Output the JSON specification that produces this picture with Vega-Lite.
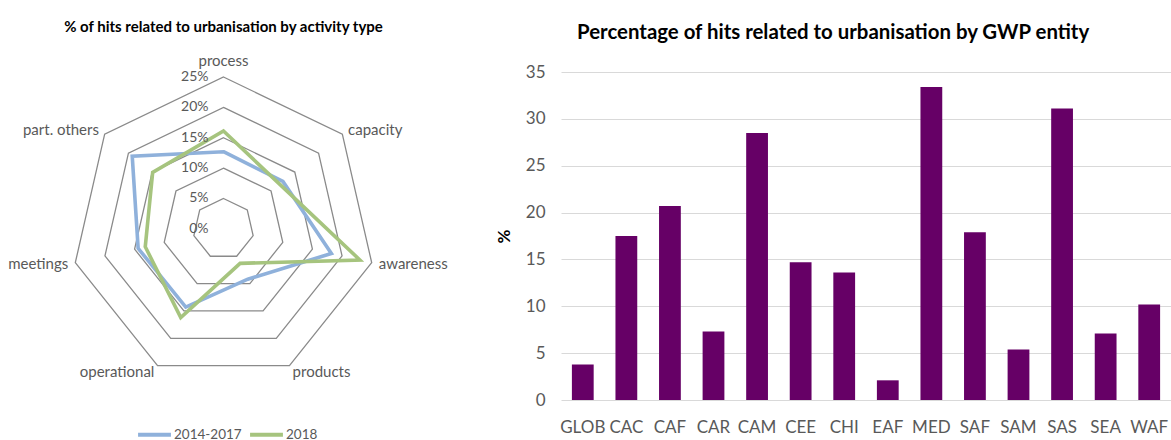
{
  "$schema": "https://vega.github.io/schema/vega-lite/v6.json",
  "background": "white",
  "padding": {"left": 0, "top": 19, "right": 0, "bottom": 0},
  "config": {"view": {"stroke": null}, "font": "Lato"},
  "spacing": 114,
  "bounds": "flush",
  "resolve": {"scale": {"x": "independent", "y": "independent", "color": "independent"}},
  "datasets": {
    "rings": [
      {"level": 5, "k": 0}, {"level": 5, "k": 1}, {"level": 5, "k": 2}, {"level": 5, "k": 3}, {"level": 5, "k": 4}, {"level": 5, "k": 5}, {"level": 5, "k": 6},
      {"level": 10, "k": 0}, {"level": 10, "k": 1}, {"level": 10, "k": 2}, {"level": 10, "k": 3}, {"level": 10, "k": 4}, {"level": 10, "k": 5}, {"level": 10, "k": 6},
      {"level": 15, "k": 0}, {"level": 15, "k": 1}, {"level": 15, "k": 2}, {"level": 15, "k": 3}, {"level": 15, "k": 4}, {"level": 15, "k": 5}, {"level": 15, "k": 6},
      {"level": 20, "k": 0}, {"level": 20, "k": 1}, {"level": 20, "k": 2}, {"level": 20, "k": 3}, {"level": 20, "k": 4}, {"level": 20, "k": 5}, {"level": 20, "k": 6},
      {"level": 25, "k": 0}, {"level": 25, "k": 1}, {"level": 25, "k": 2}, {"level": 25, "k": 3}, {"level": 25, "k": 4}, {"level": 25, "k": 5}, {"level": 25, "k": 6}
    ],
    "radar": [
      {"activity": "process", "k": 0, "series": "2014-2017", "value": 12.7},
      {"activity": "capacity", "k": 1, "series": "2014-2017", "value": 12.5},
      {"activity": "awareness", "k": 2, "series": "2014-2017", "value": 18.2},
      {"activity": "products", "k": 3, "series": "2014-2017", "value": 9.2},
      {"activity": "operational", "k": 4, "series": "2014-2017", "value": 14.3},
      {"activity": "meetings", "k": 5, "series": "2014-2017", "value": 14.4},
      {"activity": "part. others", "k": 6, "series": "2014-2017", "value": 19.2},
      {"activity": "process", "k": 0, "series": "2018", "value": 16.1},
      {"activity": "capacity", "k": 1, "series": "2018", "value": 11.8},
      {"activity": "awareness", "k": 2, "series": "2018", "value": 23.0},
      {"activity": "products", "k": 3, "series": "2018", "value": 6.3},
      {"activity": "operational", "k": 4, "series": "2018", "value": 16.2},
      {"activity": "meetings", "k": 5, "series": "2018", "value": 13.2},
      {"activity": "part. others", "k": 6, "series": "2018", "value": 14.9}
    ],
    "axes": [
      {"activity": "process", "k": 0},
      {"activity": "capacity", "k": 1},
      {"activity": "awareness", "k": 2},
      {"activity": "products", "k": 3},
      {"activity": "operational", "k": 4},
      {"activity": "meetings", "k": 5},
      {"activity": "part. others", "k": 6}
    ],
    "levels": [
      {"level": 0, "label": "0%"},
      {"level": 5, "label": "5%"},
      {"level": 10, "label": "10%"},
      {"level": 15, "label": "15%"},
      {"level": 20, "label": "20%"},
      {"level": 25, "label": "25%"}
    ],
    "bars": [
      {"entity": "GLOB", "pct": 3.8},
      {"entity": "CAC", "pct": 17.5},
      {"entity": "CAF", "pct": 20.7},
      {"entity": "CAR", "pct": 7.3},
      {"entity": "CAM", "pct": 28.5},
      {"entity": "CEE", "pct": 14.7},
      {"entity": "CHI", "pct": 13.6},
      {"entity": "EAF", "pct": 2.1},
      {"entity": "MED", "pct": 33.4},
      {"entity": "SAF", "pct": 17.9},
      {"entity": "SAM", "pct": 5.4},
      {"entity": "SAS", "pct": 31.1},
      {"entity": "SEA", "pct": 7.1},
      {"entity": "WAF", "pct": 10.2}
    ]
  },
  "hconcat": [
    {
      "width": 447,
      "height": 328,
      "title": {"text": "% of hits related to urbanisation  by activity type", "fontSize": 15, "fontWeight": "bold", "color": "#000000", "anchor": "middle", "offset": 18.7},
      "layer": [
        {
          "data": {"name": "rings"},
          "transform": [
            {"calculate": "datum.level*sin(2*PI*datum.k/7)", "as": "x"},
            {"calculate": "datum.level*cos(2*PI*datum.k/7)", "as": "y"}
          ],
          "mark": {"type": "line", "interpolate": "linear-closed", "stroke": "#8a8a8a", "strokeWidth": 1.3},
          "encoding": {
            "x": {"field": "x", "type": "quantitative", "scale": {"domain": [-36.76, 36.76], "nice": false, "zero": false}, "axis": null},
            "y": {"field": "y", "type": "quantitative", "scale": {"domain": [-28.17, 25.82], "nice": false, "zero": false}, "axis": null},
            "detail": {"field": "level", "type": "nominal"},
            "order": {"field": "k", "type": "quantitative"}
          }
        },
        {
          "data": {"name": "radar"},
          "transform": [
            {"calculate": "datum.value*sin(2*PI*datum.k/7)", "as": "x"},
            {"calculate": "datum.value*cos(2*PI*datum.k/7)", "as": "y"}
          ],
          "mark": {"type": "line", "interpolate": "linear-closed", "strokeWidth": 3.6},
          "encoding": {
            "x": {"field": "x", "type": "quantitative", "scale": {"domain": [-36.76, 36.76], "nice": false, "zero": false}, "axis": null},
            "y": {"field": "y", "type": "quantitative", "scale": {"domain": [-28.17, 25.82], "nice": false, "zero": false}, "axis": null},
            "color": {
              "field": "series", "type": "nominal",
              "scale": {"domain": ["2014-2017", "2018"], "range": ["#8fb1db", "#a6c47e"]},
              "legend": {"orient": "none", "legendX": 136, "legendY": 344, "direction": "horizontal", "title": null, "symbolType": "stroke", "symbolStrokeWidth": 4, "symbolSize": 1080, "labelFontSize": 13.5, "labelColor": "#595959", "labelOffset": 1, "columnPadding": 0}
            },
            "order": {"field": "k", "type": "quantitative"}
          }
        },
        {
          "data": {"name": "levels"},
          "mark": {"type": "text", "align": "right", "baseline": "middle", "dx": -15, "fontSize": 14, "color": "#595959"},
          "encoding": {
            "x": {"datum": 0, "type": "quantitative", "scale": {"domain": [-36.76, 36.76], "nice": false, "zero": false}, "axis": null},
            "y": {"field": "level", "type": "quantitative", "scale": {"domain": [-28.17, 25.82], "nice": false, "zero": false}, "axis": null},
            "text": {"field": "label"}
          }
        },
        {
          "data": {"name": "axes"},
          "transform": [
            {"filter": "datum.k == 0"},
            {"calculate": "26.2*sin(2*PI*datum.k/7)", "as": "x"},
            {"calculate": "26.2*cos(2*PI*datum.k/7)", "as": "y"}
          ],
          "mark": {"type": "text", "align": "center", "baseline": "bottom", "dy": -1, "fontSize": 15, "color": "#595959"},
          "encoding": {
            "x": {"field": "x", "type": "quantitative", "scale": {"domain": [-36.76, 36.76], "nice": false, "zero": false}, "axis": null},
            "y": {"field": "y", "type": "quantitative", "scale": {"domain": [-28.17, 25.82], "nice": false, "zero": false}, "axis": null},
            "text": {"field": "activity"}
          }
        },
        {
          "data": {"name": "axes"},
          "transform": [
            {"filter": "datum.k >= 1 && datum.k <= 3"},
            {"calculate": "26.2*sin(2*PI*datum.k/7)", "as": "x"},
            {"calculate": "26.2*cos(2*PI*datum.k/7)", "as": "y"}
          ],
          "mark": {"type": "text", "align": "left", "baseline": "middle", "fontSize": 15, "color": "#595959"},
          "encoding": {
            "x": {"field": "x", "type": "quantitative", "scale": {"domain": [-36.76, 36.76], "nice": false, "zero": false}, "axis": null},
            "y": {"field": "y", "type": "quantitative", "scale": {"domain": [-28.17, 25.82], "nice": false, "zero": false}, "axis": null},
            "text": {"field": "activity"}
          }
        },
        {
          "data": {"name": "axes"},
          "transform": [
            {"filter": "datum.k >= 4"},
            {"calculate": "26.2*sin(2*PI*datum.k/7)", "as": "x"},
            {"calculate": "26.2*cos(2*PI*datum.k/7)", "as": "y"}
          ],
          "mark": {"type": "text", "align": "right", "baseline": "middle", "fontSize": 15, "color": "#595959"},
          "encoding": {
            "x": {"field": "x", "type": "quantitative", "scale": {"domain": [-36.76, 36.76], "nice": false, "zero": false}, "axis": null},
            "y": {"field": "y", "type": "quantitative", "scale": {"domain": [-28.17, 25.82], "nice": false, "zero": false}, "axis": null},
            "text": {"field": "activity"}
          }
        }
      ]
    },
    {
      "width": 610,
      "height": 328,
      "title": {"text": "Percentage of hits related to urbanisation by GWP entity", "fontSize": 20.4, "fontWeight": "bold", "color": "#000000", "anchor": "middle", "frame": "bounds", "offset": 19.2},
      "data": {"name": "bars"},
      "mark": {"type": "bar", "color": "#660066"},
      "encoding": {
        "x": {
          "field": "entity", "type": "nominal", "sort": null,
          "scale": {"paddingInner": 0.5, "paddingOuter": 0.25},
          "axis": {"title": null, "labelAngle": 0, "labelFontSize": 17, "labelColor": "#595959", "ticks": false, "domain": false, "labelPadding": 19}
        },
        "y": {
          "field": "pct", "type": "quantitative",
          "scale": {"domain": [0, 35], "nice": false},
          "axis": {"title": "%", "titleFontSize": 17, "titleFontWeight": "bold", "titleColor": "#000000", "titlePadding": 12, "values": [0, 5, 10, 15, 20, 25, 30, 35], "grid": true, "gridColor": "#d9d9d9", "gridWidth": 1.2, "domain": false, "ticks": false, "labelFontSize": 17, "labelColor": "#595959", "labelPadding": 16}
        }
      }
    }
  ]
}
